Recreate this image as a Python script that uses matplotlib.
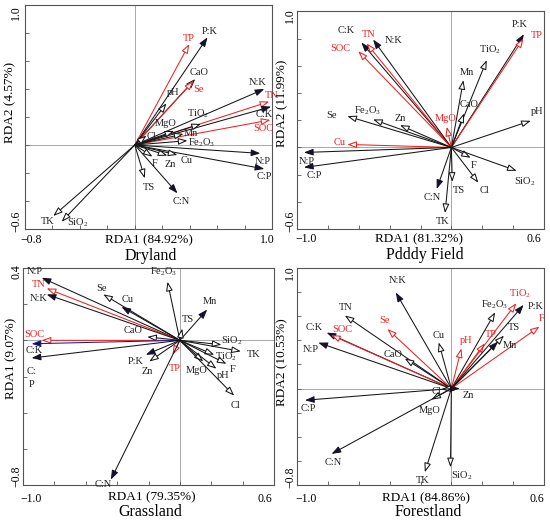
import matplotlib.pyplot as plt

plt.rcParams['font.family'] = ['Liberation Serif', 'DejaVu Serif']
plt.rcParams['mathtext.fontset'] = 'custom'
plt.rcParams['mathtext.rm'] = 'Liberation Serif'
plt.rcParams['mathtext.it'] = 'Liberation Serif:italic'

# ---- Dryland ----
dry_names = ['P:K', 'TP', 'CaO', 'Se', 'pH', 'N:K', 'TN', 'C:K', 'SOC', 'TiO$_2$',
             'MgO', 'Mn', 'Cl', 'Fe$_2$O$_3$', 'N:P', 'C:P', 'F', 'Zn', 'Cu', 'TS',
             'C:N', 'TK', 'SiO$_2$']
dry_x = [0.530, 0.397, 0.440, 0.428, 0.231, 0.944, 0.980, 0.993, 0.988, 0.482,
         0.287, 0.355, 0.085, 0.384, 0.915, 0.944, 0.129, 0.238, 0.311, 0.073,
         0.311, -0.594, -0.533]
dry_y = [0.769, 0.721, 0.471, 0.457, 0.298, 0.400, 0.310, 0.274, 0.179, 0.150,
         0.100, 0.079, 0.067, 0.031, -0.060, -0.171, -0.083, -0.076, -0.071, -0.238,
         -0.345, -0.507, -0.548]

# ---- Paddy field ----
pad_names = ['P:K', 'TP', 'TiO$_2$', 'Mn', 'CaO', 'pH', 'MgO', 'C:K', 'TN', 'N:K',
             'SOC', 'Se', 'Fe$_2$O$_3$', 'Zn', 'Cu', 'N:P', 'C:P', 'F', 'SiO$_2$', 'Cl',
             'TS', 'C:N', 'TK']
pad_x = [0.470, 0.467, 0.229, 0.078, 0.082, 0.514, -0.030, -0.583, -0.549, -0.507,
         -0.603, -0.674, -0.507, -0.333, -0.674, -0.955, -0.955, 0.125, 0.423, 0.175,
         0.006, -0.095, -0.041]
pad_y = [0.833, 0.801, 0.642, 0.495, 0.250, 0.196, 0.152, 0.772, 0.765, 0.794,
         0.708, 0.230, 0.206, 0.164, 0.022, -0.037, -0.147, -0.076, -0.172, -0.260,
         -0.253, -0.306, -0.483]

# ---- Grassland ----
gra_names = ['N:P', 'TN', 'N:K', 'Se', 'Cu', 'Fe$_2$O$_3$', 'Mn', 'TS', 'CaO', 'SOC',
             'C:K', 'C:\nP', 'P:K', 'Zn', 'TP', 'C:N', 'SiO$_2$', 'TK', 'TiO$_2$', 'MgO',
             'F', 'pH', 'Cl']
gra_x = [-0.881, -0.849, -0.849, -0.488, -0.372, -0.079, 0.174, 0.015, -0.208, -0.881,
         -0.945, -0.945, -0.217, -0.195, -0.047, -0.440, 0.265, 0.389, 0.219, 0.149,
         0.297, 0.233, 0.346]
gra_y = [0.346, 0.287, 0.254, 0.254, 0.185, 0.324, 0.170, 0.065, 0.019, 0.000,
         -0.019, -0.098, -0.080, -0.117, -0.080, -0.770, -0.024, -0.061, -0.080, -0.117,
         -0.130, -0.157, -0.306]

# ---- Forestland ----
for_names = ['N:K', 'TN', 'C:K', 'SOC', 'N:P', 'Se', 'CaO', 'Cu', 'pH', 'TP',
             'Fe$_2$O$_3$', 'TiO$_2$', 'P:K', 'TS', 'Mn', 'F', 'Cl', 'Zn', 'C:P', 'MgO',
             'C:N', 'TK', 'SiO$_2$']
for_x = [-0.360, -0.690, -0.808, -0.780, -0.862, -0.414, -0.302, -0.082, 0.065, 0.216,
         0.284, 0.421, 0.468, 0.341, 0.302, 0.571, -0.065, 0.054, -0.948, -0.129,
         -0.776, -0.172, -0.006]
for_y = [0.797, 0.606, 0.464, 0.444, 0.381, 0.494, 0.250, 0.383, 0.333, 0.375,
         0.633, 0.708, 0.694, 0.439, 0.389, 0.514, -0.006, 0.000, -0.097, -0.092,
         -0.542, -0.694, -0.653]

# arrow styles: filled black heads, red arrows, blue line; everything else open black
styles = {
    'dry': {'filled': ['P:K', 'N:K', 'C:K', 'N:P', 'C:P', 'C:N'],
            'red': ['TP', 'Se', 'TN', 'SOC'], 'blue': []},
    'pad': {'filled': ['P:K', 'C:K', 'N:K', 'N:P', 'C:P', 'C:N'],
            'red': ['TP', 'TN', 'SOC', 'MgO', 'Cu'], 'blue': []},
    'gra': {'filled': ['N:P', 'N:K', 'Cu', 'Mn', 'C:\nP', 'P:K', 'C:N'],
            'red': ['TN', 'SOC', 'TP'], 'blue': ['C:K']},
    'for': {'filled': ['N:K', 'C:K', 'N:P', 'C:P', 'C:N', 'P:K', 'Mn', 'Zn'],
            'red': ['SOC', 'Se', 'pH', 'TP', 'TiO$_2$', 'F'], 'blue': []},
}

# label offsets from arrow tip, pixels
offsets = {
    'dry': [(2, 6), (0, 6), (4, 7), (5, -8), (7, 11), (-7, 6), (2, 6), (-7, -8), (-7, -9),
            (-3, 10), (-9, 7), (7, 0), (5, -1), (14, -2), (2, -8), (0, -8), (2, -7),
            (3, -9), (9, -6), (4, -9), (4, -8), (-6, -6), (16, -1)],
    'pad': [(-4, 10), (13, 3), (3, 10), (3, 8), (5, 9), (6, 9), (-1, 8), (-15, 12),
            (2, 9), (21, -1), (-18, 3), (-16, 1), (-5, 9), (0, 7), (-8, 2), (3, -9),
            (10, -8), (3, -8), (8, -11), (6, -8), (7, -9), (-4, -8), (-2, -8)],
    'gra': [(-7, 6), (-8, 4), (-8, -4), (-2, 6), (6, 7), (-4, 10), (3, 8), (6, 9),
            (-14, 6), (-7, 6), (3, -7), (0, -20), (-10, -7), (-2, -10), (2, -14),
            (-8, -5), (10, 4), (13, -3), (12, -2), (-7, -9), (6, -6), (7, -7), (1, -10)],
    'for': [(2, 12), (1, 8), (-12, 5), (11, 6), (-8, -7), (-3, 9), (-12, 4), (0, 7),
            (5, 8), (6, 9), (-1, 7), (4, 9), (12, -2), (10, 8), (12, -4), (2, 8),
            (-5, -2), (9, -7), (3, -8), (-2, -11), (2, -9), (-2, -8), (11, -8)],
}

W, H = 550, 522
fig = plt.figure(figsize=(W / 100, H / 100), dpi=100)


def px_box(x0, x1, y0, y1):
    return [x0 / W, 1 - y1 / H, (x1 - x0) / W, (y1 - y0) / H]


def ftext(x, y, s, **kw):
    fig.text(x / W, 1 - y / H, s, ha='center', va='center', **kw)


def draw_panel(box, key, names, xs, ys, xlim, ylim):
    ax = fig.add_axes(box)
    ax.set_xlim(*xlim)
    ax.set_ylim(*ylim)
    ax.axhline(0, color='#9a9a9a', lw=0.6, zorder=1)
    ax.axvline(0, color='#9a9a9a', lw=0.6, zorder=1)
    st = styles[key]
    for name, x, y, off in zip(names, xs, ys, offsets[key]):
        if name in st['red']:
            ec, fc, tc = '#f02020', 'white', '#f02020'
        elif name in st['blue']:
            ec, fc, tc = '#1c1c8c', '#101050', '#202020'
        elif name in st['filled']:
            ec, fc, tc = '#151515', '#101040', '#202020'
        else:
            ec, fc, tc = '#151515', 'white', '#202020'
        ax.annotate('', xy=(x, y), xytext=(0, 0),
                    arrowprops=dict(arrowstyle='-|>,head_length=0.55,head_width=0.2',
                                    ec=ec, fc=fc, lw=0.75, shrinkA=0, shrinkB=0,
                                    mutation_scale=10), zorder=3)
        ax.annotate(name, xy=(x, y), xytext=off, textcoords='offset pixels',
                    ha='center', va='center', fontsize=7.5, color=tc,
                    linespacing=1.5, zorder=4)
    nx = int(round((xlim[1] - xlim[0]) / 0.2))
    ny = int(round((ylim[1] - ylim[0]) / 0.2))
    ax.set_xticks([xlim[0] + 0.2 * i for i in range(nx + 1)])
    ax.set_yticks([ylim[0] + 0.2 * i for i in range(ny + 1)])
    ax.set_xticklabels([])
    ax.set_yticklabels([])
    ax.tick_params(direction='in', length=3, width=0.6, color='#555555')
    for sp in ax.spines.values():
        sp.set_linewidth(0.8)
        sp.set_color('#555555')
    return ax


draw_panel(px_box(25, 272, 5, 229), 'dry', dry_names, dry_x, dry_y, (-0.8, 1.0), (-0.6, 1.0))
draw_panel(px_box(297, 544, 11.5, 229), 'pad', pad_names, pad_x, pad_y, (-1.0, 0.6), (-0.6, 1.0))
draw_panel(px_box(23, 274, 268, 485), 'gra', gra_names, gra_x, gra_y, (-1.0, 0.6), (-0.8, 0.4))
draw_panel(px_box(297, 544, 268, 485), 'for', for_names, for_x, for_y, (-1.0, 0.6), (-0.8, 1.0))

tick_fs = 8.5
# end tick labels
ftext(31, 240, '\u22120.8', fontsize=tick_fs)
ftext(267, 240, '1.0', fontsize=tick_fs)
ftext(16, 13, '1.0', fontsize=tick_fs, rotation=90)
ftext(16, 221, '\u22120.6', fontsize=tick_fs, rotation=90)

ftext(306, 239, '\u22121.0', fontsize=tick_fs)
ftext(534, 239, '0.6', fontsize=tick_fs)
ftext(290, 16, '1.0', fontsize=tick_fs, rotation=90)
ftext(290, 221, '\u22120.6', fontsize=tick_fs, rotation=90)

ftext(31, 499, '\u22121.0', fontsize=tick_fs)
ftext(265, 499, '0.6', fontsize=tick_fs)
ftext(16, 272, '0.4', fontsize=tick_fs, rotation=90)
ftext(16, 476, '\u22120.8', fontsize=tick_fs, rotation=90)

ftext(306, 499, '\u22121.0', fontsize=tick_fs)
ftext(537, 499, '0.6', fontsize=tick_fs)
ftext(290, 273, '1.0', fontsize=tick_fs, rotation=90)
ftext(290, 477, '\u22120.8', fontsize=tick_fs, rotation=90)

# axis titles
ax_fs = 9.5
ftext(149, 240, 'RDA1 (84.92%)', fontsize=ax_fs)
ftext(419, 239, 'RDA1 (81.32%)', fontsize=ax_fs)
ftext(152, 497, 'RDA1 (79.35%)', fontsize=ax_fs)
ftext(426, 498, 'RDA1 (84.86%)', fontsize=ax_fs)
ftext(10, 102, 'RDA2 (4.57%)', fontsize=ax_fs, rotation=90)
ftext(282, 103, 'RDA2 (11.99%)', fontsize=ax_fs, rotation=90)
ftext(11, 358, 'RDA1 (9.07%)', fontsize=ax_fs, rotation=90)
ftext(282, 362, 'RDA2 (10.53%)', fontsize=ax_fs, rotation=90)

# panel names
name_fs = 11.5
ftext(151, 256, 'Dryland', fontsize=name_fs)
ftext(425, 255, 'Pdddy Field', fontsize=name_fs)
ftext(150, 512, 'Grassland', fontsize=name_fs)
ftext(428, 512, 'Forestland', fontsize=name_fs)

fig.savefig('out.png', dpi=100)
